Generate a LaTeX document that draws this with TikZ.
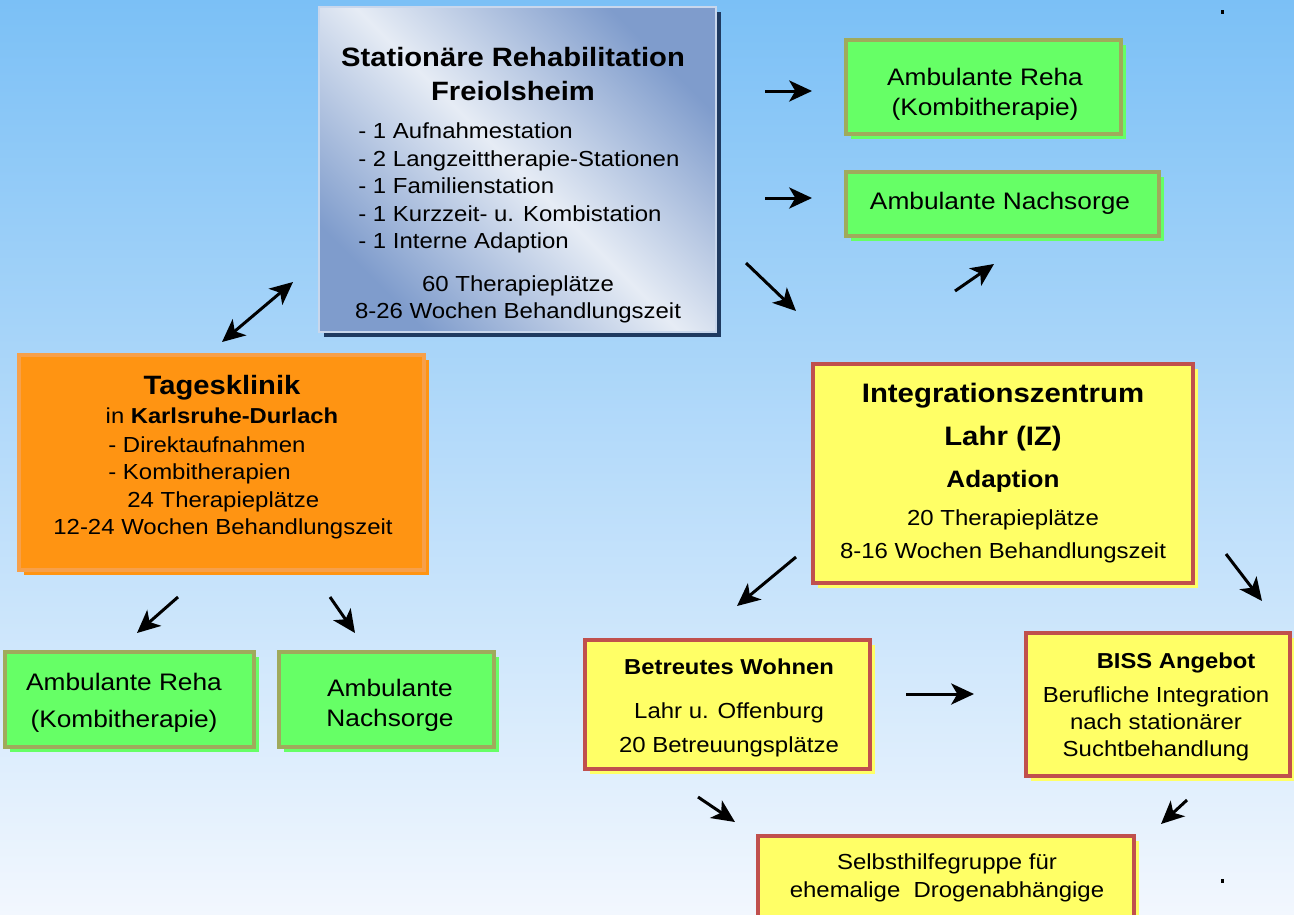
\documentclass[tikz,border=0pt]{standalone}
\usepackage{fontspec}
\setmainfont{Liberation Sans}[FakeStretch=1.1]
\usetikzlibrary{shadows,arrows.meta,positioning}

\definecolor{himmeloben}{HTML}{7BC0F6}
\definecolor{himmelunten}{HTML}{F2F7FE}
\definecolor{statdunkel}{HTML}{7F9CCC}
\definecolor{statlicht}{HTML}{E6ECF5}
\definecolor{statrand}{HTML}{C9D7EC}
\definecolor{statschatten}{HTML}{1F3A60}
\definecolor{ambgruen}{HTML}{66FF66}
\definecolor{ambrand}{HTML}{A0AA5C}
\definecolor{tagorange}{HTML}{FF9412}
\definecolor{tagrand}{HTML}{F7A04A}
\definecolor{izgelb}{HTML}{FFFF66}
\definecolor{izrand}{HTML}{C0504D}

\newcommand\schrift[2]{\fontsize{#1}{#2}\selectfont}

\tikzset{
  box/.style={rectangle, inner sep=0pt, align=center},
  statbox/.style={box, draw=statrand, line width=1pt,
    top color=statdunkel, bottom color=statdunkel, middle color=statlicht, shading angle=-45,
    drop shadow={shadow xshift=0.1cm, shadow yshift=-0.1cm, fill=statschatten, opacity=1}},
  ambbox/.style={box, fill=ambgruen, draw=ambrand, line width=1.8pt,
    drop shadow={shadow xshift=0.1cm, shadow yshift=-0.1cm, fill=ambgruen, opacity=1}},
  tagbox/.style={box, fill=tagorange, draw=tagrand, line width=1.8pt,
    drop shadow={shadow xshift=0.1cm, shadow yshift=-0.1cm, fill=tagorange, opacity=1}},
  izbox/.style={box, fill=izgelb, draw=izrand, line width=1.8pt,
    drop shadow={shadow xshift=0.1cm, shadow yshift=-0.1cm, fill=izgelb, opacity=1}},
  txt/.style={inner sep=0pt, align=center},
  spitze/.tip={Stealth[length=13pt,width=12pt,inset=3.5pt]},
  pfeil/.style={-spitze, line width=1.7pt},
}

\begin{document}
\begin{tikzpicture}[x=0.02cm, y=-0.02cm]
  \useasboundingbox (0,0) rectangle (1294,914);
  \clip (0,0) rectangle (1294,914);
  \shade[top color=himmeloben, bottom color=himmelunten] (0,0) rectangle (1294,914);

  % Freiolsheim
  \node[statbox, minimum width=7.94cm, minimum height=6.5cm] (stat) at (517.5,169.5) {};
  \node[txt, font=\bfseries\schrift{15.1}{19.9}] (statkopf) at (513,74) {Stationäre Rehabilitation\\Freiolsheim};
  \node[txt, align=left, anchor=west, font=\schrift{12.4}{15.6}] (statliste) at (358,188)
    {- 1 Aufnahmestation\\- 2 Langzeittherapie-Stationen\\- 1 Familienstation\\- 1 Kurzzeit- u. Kombistation\\- 1 Interne Adaption};
  \node[txt, font=\schrift{12.4}{15.4}] (statzahl) at (518,299) {60 Therapieplätze\\8-26 Wochen Behandlungszeit};

  \node[ambbox, minimum width=5.5cm, minimum height=1.88cm] (ambreha) at (983.5,87) {};
  \node[txt, font=\schrift{13.6}{17}] (ambrehatext) at (985,94) {Ambulante Reha\\(Kombitherapie)};
  \node[ambbox, minimum width=6.26cm, minimum height=1.28cm] (ambnach) at (1002.5,204) {};
  \node[txt, font=\schrift{13.6}{17}] (ambnachtext) at (1000,203) {Ambulante Nachsorge};

  % Tagesklinik
  \node[tagbox, minimum width=8.1cm, minimum height=4.3cm] (tag) at (221.5,462.5) {};
  \node[txt, font=\bfseries\schrift{15.1}{18}] (tagkopf) at (222,388) {Tagesklinik};
  \node[txt, font=\schrift{12.3}{15}] (tagort) at (222,416) {in \textbf{Karlsruhe-Durlach}};
  \node[txt, align=left, anchor=west, font=\schrift{12.4}{15.6}] (tagliste) at (108,474)
    {- Direktaufnahmen\\- Kombitherapien\\\hspace*{10.8pt}24 Therapieplätze};
  \node[txt, font=\schrift{12.4}{15.6}] (tagzeit) at (223,529) {12-24 Wochen Behandlungszeit};

  \node[ambbox, minimum width=4.98cm, minimum height=1.9cm] (tagreha) at (129.5,699.5) {};
  \node[txt, font=\schrift{13.6}{21}] (tagrehatext) at (124,703) {Ambulante Reha\\(Kombitherapie)};
  \node[ambbox, minimum width=4.3cm, minimum height=1.9cm] (tagnach) at (386.5,699.5) {};
  \node[txt, font=\schrift{13.6}{17}] (tagnachtext) at (390,705) {Ambulante\\Nachsorge};

  % Lahr
  \node[izbox, minimum width=7.6cm, minimum height=4.38cm] (iz) at (1003,473.5) {};
  \node[txt, font=\bfseries\schrift{15.2}{24.5}] (izkopf) at (1003,417) {Integrationszentrum\\Lahr (IZ)};
  \node[txt, font=\bfseries\schrift{13.5}{16}] (izadapt) at (1003,481) {Adaption};
  \node[txt, font=\schrift{12.4}{18.8}] (izzahl) at (1003,536) {20 Therapieplätze\\8-16 Wochen Behandlungszeit};

  \node[izbox, minimum width=5.7cm, minimum height=2.58cm] (bw) at (727.5,704.5) {};
  \node[txt, font=\bfseries\schrift{12.3}{15}] (bwkopf) at (729,667) {Betreutes Wohnen};
  \node[txt, font=\schrift{12.4}{19.3}] (bwtext) at (729,730) {Lahr u. Offenburg\\20 Betreuungsplätze};

  \node[izbox, minimum width=5.28cm, minimum height=2.86cm] (biss) at (1158,704.5) {};
  \node[txt, font=\bfseries\schrift{12.3}{15}] (bisskopf) at (1176,663) {BISS Angebot};
  \node[txt, font=\schrift{12.4}{15.4}] (bisstext) at (1156,724) {Berufliche Integration\\nach stationärer\\Suchtbehandlung};

  \node[izbox, minimum width=7.52cm, minimum height=1.76cm] (shg) at (946,880) {};
  \node[txt, font=\schrift{12.4}{15.9}] (shgtext) at (947,878) {Selbsthilfegruppe für\\ehemalige\ \ Drogenabhängige};

  % Pfeile
  \foreach \n/\s/\e in {1/{765,91}/{812,91}, 2/{765,198}/{812,198}, 3/{746,263}/{796,311},
      4/{955,291}/{994,264}, 5/{178,597}/{137,633}, 6/{330,597}/{355,633},
      7/{796,557}/{737,606}, 8/{1226,554}/{1262,601}, 9/{906,694}/{974,694},
      10/{698,797}/{735,822}, 11/{1187,800}/{1161,824}} {
    \coordinate (s\n) at (\s);
    \coordinate (e\n) at (\e);
    \draw[pfeil] (s\n) -- (e\n);
  }
  \coordinate (tagpfeil) at (222,342);
  \coordinate (statpfeil) at (293,282);
  \draw[pfeil, spitze-spitze] (tagpfeil) -- (statpfeil);

  \fill (1221,10) rectangle (1224,14);
  \fill (1221,879) rectangle (1224,883);
\end{tikzpicture}
\end{document}
